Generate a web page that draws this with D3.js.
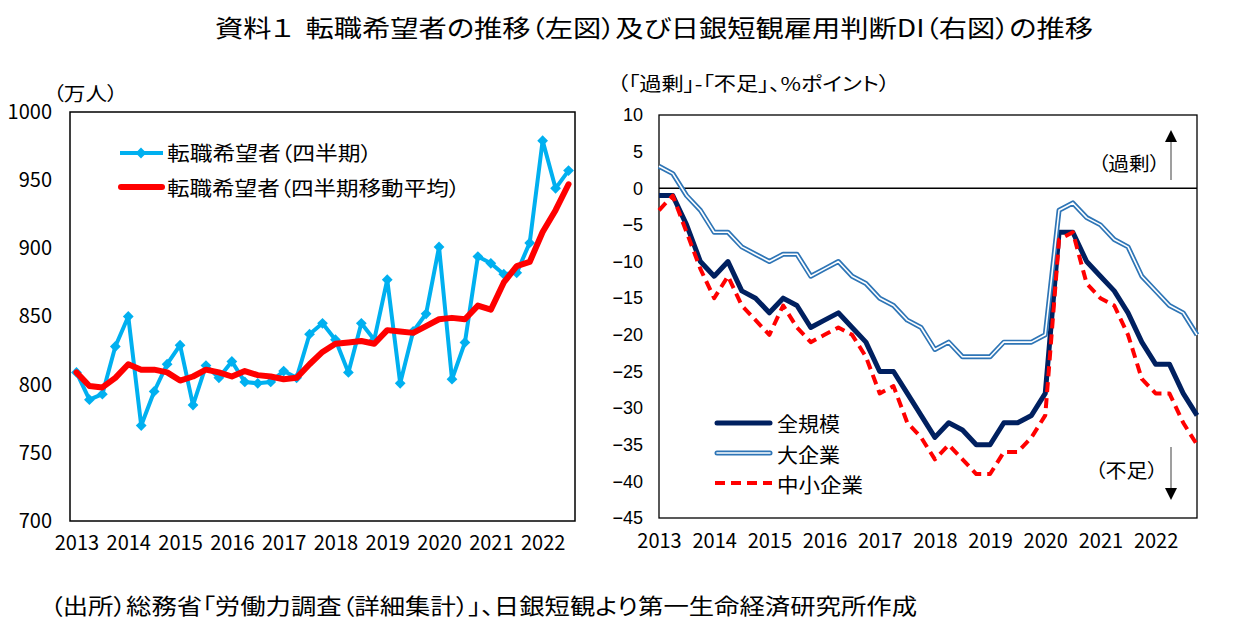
<!DOCTYPE html>
<html>
<head>
<meta charset="utf-8">
<script src="https://cdn.jsdelivr.net/npm/d3@7"></script>
<style>
  body { margin: 0; background: #fff; }
  svg text { font-family: "Noto Sans CJK JP", sans-serif; fill: #000; font-feature-settings: "palt"; }
</style>
</head>
<body>
<svg id="chart" width="1242" height="633"></svg>
<script>
// quarterly data, 2013Q1 onward
const years = ["2013", "2014", "2015", "2016", "2017", "2018", "2019", "2020", "2021", "2022"];
const seekerTicks = [700, 750, 800, 850, 900, 950, 1000];
const diTicks = [10, 5, 0, -5, -10, -15, -20, -25, -30, -35, -40, -45];

// 転職希望者（四半期）, 万人, 2013Q1-2022Q3
const seekers = [809, 789, 793, 828, 850, 770, 795, 815, 829, 785, 814, 805, 817, 802, 801, 802,
    810, 805, 837, 845, 833, 809, 845, 833, 877, 801, 839, 852, 901, 804, 831, 894,
    889, 881, 882, 904, 979, 944, 957];
// 転職希望者（四半期移動平均）
const seekersAvg = [809, 799, 798, 805, 815, 811, 811, 809, 803, 806, 811, 809, 806, 810, 807, 806,
    804, 805, 815, 824, 830, 831, 832, 830, 840, 839, 838, 843, 848, 849, 848, 858,
    855, 875, 887, 890, 912, 928, 947];

// 日銀短観 雇用人員判断DI, 2013Q1-2022Q4
const diAll = [-1, -1, -5, -10, -12, -10, -14, -15, -17, -15, -16, -19, -18, -17, -19, -21,
    -25, -25, -28, -31, -34, -32, -33, -35, -35, -32, -32, -31, -28, -6, -6, -10,
    -12, -14, -17, -21, -24, -24, -28, -31];
const diLarge = [3, 2, -1, -3, -6, -6, -8, -9, -10, -9, -9, -12, -11, -10, -12, -13,
    -15, -16, -18, -19, -22, -21, -23, -23, -23, -21, -21, -21, -20, -3, -2, -4,
    -5, -7, -8, -12, -14, -16, -17, -20];
const diSmall = [-3, -1, -6, -11, -15, -12, -16, -18, -20, -16, -19, -21, -20, -19, -20, -23,
    -28, -27, -32, -34, -37, -35, -37, -39, -39, -36, -36, -34, -31, -7, -6, -13,
    -15, -16, -20, -26, -28, -28, -32, -35];

const svg = d3.select("#chart");

function fit(sel, w) {
    sel.attr("textLength", w).attr("lengthAdjust", "spacingAndGlyphs");
    return sel;
}

// title + source
fit(svg.append("text").attr("x", 654).attr("y", 37).attr("text-anchor", "middle")
    .attr("font-size", 24)
    .text("資料１\u00A0\u00A0転職希望者の推移（左図）及び日銀短観雇用判断DI（右図）の推移"), 878);
fit(svg.append("text").attr("x", 50).attr("y", 614)
    .attr("font-size", 22)
    .text("（出所）総務省「労働力調査（詳細集計）」、日銀短観より第一生命経済研究所作成"), 867);

// ---------- left chart ----------
const L = {left: 70, right: 575, top: 112, bottom: 521};
const xL = d3.scalePoint().domain(d3.range(seekers.length)).range([L.left, L.right]).padding(0.5);
const yL = d3.scaleLinear().domain([700, 1000]).range([L.bottom, L.top]);

svg.append("rect").attr("x", L.left).attr("y", L.top)
    .attr("width", L.right - L.left).attr("height", L.bottom - L.top)
    .attr("fill", "#fff").attr("stroke", "#000").attr("stroke-width", 1.5);

let g = svg.append("g").attr("transform", "translate(" + L.left + ",0)")
    .call(d3.axisLeft(yL).tickValues(seekerTicks).tickFormat(d3.format("d"))
        .tickSize(0).tickPadding(18));
g.select(".domain").remove();
g.attr("font-size", 20);

g = svg.append("g").attr("transform", "translate(0," + L.bottom + ")")
    .call(d3.axisBottom(xL).tickValues(d3.range(0, seekers.length, 4))
        .tickFormat(i => years[i / 4]).tickSize(0).tickPadding(15));
g.select(".domain").remove();
g.attr("font-size", 20);

fit(svg.append("text").attr("x", 53).attr("y", 101).attr("font-size", 19).text("（万人）"), 65);

const lineL = d3.line().x((d, i) => xL(i)).y(d => yL(d));
svg.append("path").datum(seekers).attr("d", lineL)
    .attr("fill", "none").attr("stroke", "#00B0F0").attr("stroke-width", 4)
    .attr("stroke-linejoin", "round");
const diamond = d3.symbol(d3.symbolSquare, 58);
svg.append("g").selectAll("path").data(seekers).enter().append("path")
    .attr("d", diamond)
    .attr("transform", (d, i) => "translate(" + xL(i) + "," + yL(d) + ") rotate(45)")
    .attr("fill", "#00B0F0");
svg.append("path").datum(seekersAvg).attr("d", lineL)
    .attr("fill", "none").attr("stroke", "#FF0000").attr("stroke-width", 6)
    .attr("stroke-linejoin", "round").attr("stroke-linecap", "round");

// legend
svg.append("line").attr("x1", 120).attr("x2", 163).attr("y1", 153).attr("y2", 153)
    .attr("stroke", "#00B0F0").attr("stroke-width", 4);
svg.append("path").attr("d", diamond).attr("transform", "translate(141,153) rotate(45)").attr("fill", "#00B0F0");
svg.append("line").attr("x1", 121).attr("x2", 162).attr("y1", 187).attr("y2", 187)
    .attr("stroke", "#FF0000").attr("stroke-width", 6).attr("stroke-linecap", "round");
fit(svg.append("text").attr("x", 167).attr("y", 161).attr("font-size", 20).text("転職希望者（四半期）"), 205);
fit(svg.append("text").attr("x", 167).attr("y", 196).attr("font-size", 20).text("転職希望者（四半期移動平均）"), 293);

// ---------- right chart ----------
const R = {left: 659, right: 1197, top: 115, bottom: 518};
const xR = d3.scalePoint().domain(d3.range(diAll.length)).range([R.left, R.right]);
const yR = d3.scaleLinear().domain([-45, 10]).range([R.bottom, R.top]);

svg.append("rect").attr("x", R.left).attr("y", R.top)
    .attr("width", R.right - R.left).attr("height", R.bottom - R.top)
    .attr("fill", "#fff").attr("stroke", "#000").attr("stroke-width", 1.3);
svg.append("line").attr("x1", R.left).attr("x2", R.right).attr("y1", yR(0)).attr("y2", yR(0))
    .attr("stroke", "#000").attr("stroke-width", 1.3);

g = svg.append("g").attr("transform", "translate(" + R.left + ",0)")
    .call(d3.axisLeft(yR).tickValues(diTicks).tickSize(0).tickPadding(16)
        .tickFormat(d => d < 0 ? "\u2212" + Math.abs(d) : d));
g.select(".domain").remove();
g.attr("font-size", 18);
g.selectAll("text").style("font-family", "'Liberation Sans', Arial, sans-serif");

g = svg.append("g").attr("transform", "translate(0," + R.bottom + ")")
    .call(d3.axisBottom(xR).tickValues(d3.range(0, diAll.length, 4))
        .tickFormat(i => years[i / 4]).tickSize(0).tickPadding(16));
g.select(".domain").remove();
g.attr("font-size", 20);

fit(svg.append("text").attr("x", 617).attr("y", 91).attr("font-size", 19)
    .text("（「過剰」-「不足」、%ポイント）"), 273);

const lineR = d3.line().x((d, i) => xR(i)).y(d => yR(d));
svg.append("path").datum(diAll).attr("d", lineR)
    .attr("fill", "none").attr("stroke", "#002060").attr("stroke-width", 5)
    .attr("stroke-linejoin", "round");
svg.append("path").datum(diLarge).attr("d", lineR)
    .attr("fill", "none").attr("stroke", "#2E75B6").attr("stroke-width", 5)
    .attr("stroke-linejoin", "round");
svg.append("path").datum(diLarge).attr("d", lineR)
    .attr("fill", "none").attr("stroke", "#fff").attr("stroke-width", 1.6)
    .attr("stroke-linejoin", "round");
svg.append("path").datum(diSmall).attr("d", lineR)
    .attr("fill", "none").attr("stroke", "#FF0000").attr("stroke-width", 4)
    .attr("stroke-dasharray", "10,6").attr("stroke-linejoin", "round");

// legend
svg.append("line").attr("x1", 717).attr("x2", 770).attr("y1", 423).attr("y2", 423)
    .attr("stroke", "#002060").attr("stroke-width", 5).attr("stroke-linecap", "round");
svg.append("line").attr("x1", 717).attr("x2", 770).attr("y1", 453).attr("y2", 453)
    .attr("stroke", "#2E75B6").attr("stroke-width", 5).attr("stroke-linecap", "round");
svg.append("line").attr("x1", 717).attr("x2", 770).attr("y1", 453).attr("y2", 453)
    .attr("stroke", "#fff").attr("stroke-width", 1.6).attr("stroke-linecap", "round");
svg.append("line").attr("x1", 715).attr("x2", 772).attr("y1", 483).attr("y2", 483)
    .attr("stroke", "#FF0000").attr("stroke-width", 4).attr("stroke-dasharray", "10,6");
fit(svg.append("text").attr("x", 777).attr("y", 432).attr("font-size", 20).text("全規模"), 63);
fit(svg.append("text").attr("x", 777).attr("y", 463).attr("font-size", 20).text("大企業"), 63);
fit(svg.append("text").attr("x", 777).attr("y", 493).attr("font-size", 20).text("中小企業"), 86);

// arrows
fit(svg.append("text").attr("x", 1098).attr("y", 171).attr("font-size", 19).text("（過剰）"), 62);
fit(svg.append("text").attr("x", 1095).attr("y", 478).attr("font-size", 19).text("（不足）"), 63);
svg.append("line").attr("x1", 1171).attr("x2", 1171).attr("y1", 180).attr("y2", 140)
    .attr("stroke", "#7f7f7f").attr("stroke-width", 1.5);
svg.append("path").attr("d", "M1171,130 L1177,142 L1165,142 Z").attr("fill", "#000");
svg.append("line").attr("x1", 1171).attr("x2", 1171).attr("y1", 447).attr("y2", 490)
    .attr("stroke", "#7f7f7f").attr("stroke-width", 1.5);
svg.append("path").attr("d", "M1171,500 L1177,488 L1165,488 Z").attr("fill", "#000");
</script>
</body>
</html>
